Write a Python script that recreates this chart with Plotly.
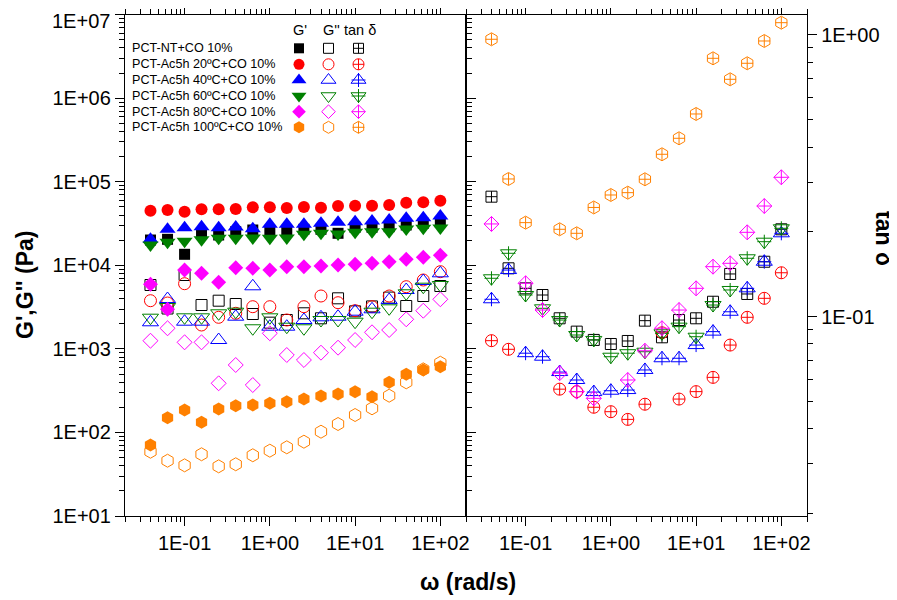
import plotly.graph_objects as go

# The page body adds an 8px margin, so the figure is drawn 8px smaller and all
# positions below are given in the 897x600 window's pixel frame.
OX, OY = 8, 8
WIN_W, WIN_H = 897, 600
W, H = WIN_W - OX, WIN_H - OY

# ---------------- data ----------------
freq = [0.0398, 0.0631, 0.1, 0.158, 0.251, 0.398, 0.631, 1.0, 1.58, 2.51,
        3.98, 6.31, 10.0, 15.8, 25.1, 39.8, 63.1, 100.0]

series_names = ["PCT-NT+CO 10%", "PCT-Ac5h 20ºC+CO 10%", "PCT-Ac5h 40ºC+CO 10%",
                "PCT-Ac5h 60ºC+CO 10%", "PCT-Ac5h 80ºC+CO 10%", "PCT-Ac5h 100ºC+CO 10%"]

nt_gp = [20100, 20500, 13560, 24190, 23080, 25290, 26490, 25760, 25760, 27010,
         27010, 24190, 28530, 28530, 29010, 30410, 31870, 33300]
nt_gpp = [5818, 3044, 7664, 3353, 3776, 3447, 2616, 2061, 2218, 2668,
          2324, 4033, 2816, 3224, 4114, 3261, 4296, 5661]
nt_tan = [0.2667, 0.1485, 0.1261, 0.1194, 0.0987, 0.0885, 0.0827, 0.0800, 0.0820, 0.0968,
          0.0845, 0.0973, 0.0987, 0.1130, 0.1418, 0.1204, 0.1567, 0.2043]

r20_gp = [45100, 46000, 43900, 46900, 46900, 47300, 49500, 49500, 48600, 49900,
          49000, 51300, 51800, 51800, 52800, 56200, 56800, 59400]
r20_gpp = [3776, 3542, 6031, 1932, 2389, 2668, 3200, 3200, 2218, 3200,
           4296, 3573, 2866, 3200, 4296, 5553, 6677, 8395]
r20_tan = [0.0822, 0.0766, None, None, 0.0553, 0.0542, 0.0477, 0.0460, 0.0432, 0.0489,
           0.0877, 0.0510, 0.0542, 0.0609, 0.0793, 0.0995, 0.1162, 0.1432]

b40_gp = [20500, 27000, 28200, 29000, 28200, 28770, 27480, 31000, 31000, 31000,
          31870, 32760, 33300, 33960, 34900, 36560, 37190, 38990]
b40_gpp = [2082, 3956, 2116, 2116, 1278, 2429, 5615, 1844, 1844, 2218,
           2389, 2429, 2788, 2979, 3849, 5070, 6495, 8030]
b40_tan = [0.1153, 0.1464, 0.0742, 0.0721, 0.0636, 0.0596, 0.0540, 0.0546, 0.0549, 0.0647,
           0.0712, 0.0712, 0.0793, 0.0885, 0.1041, 0.1261, 0.1567, 0.1977]

g60_gp = [17520, 18880, 19410, 20280, 21080, 21080, 21250, 21080, 21250, 23530,
          24190, 23800, 24880, 25290, 25290, 27230, 27760, 27990]
g60_gpp = [2363, 3173, 2389, 2389, 2668, 2788, 1765, 2389, 1844, 1765,
           2218, 2218, 2116, 2788, 3061, 4630, 5553, 5818]
g60_tan = [0.1369, 0.1679, 0.1194, 0.1071, 0.0973, 0.0861, 0.0827, 0.0721, 0.0742, 0.0751,
           0.0873, 0.0922, 0.0849, 0.1100, 0.1244, 0.1612, 0.1846, 0.2060]

m80_gp = [5933, 2979, 8796, 8030, 6268, 9374, 9220, 8796, 9634, 9634,
          9822, 10100, 10290, 10580, 11060, 11810, 12490, 13190]
m80_gpp = [1253, 1765, 1199, 1199, 387.5, 641.8, 369.8, 1537, 845.3, 736.5,
           900.7, 1034, 1278, 1580, 1684, 2261, 2865, 3923]
m80_tan = [0.2134, None, 0.1314, 0.1056, 0.0630, 0.0542, 0.0513, None, 0.0596, 0.0757,
           0.0910, 0.1056, 0.1261, 0.1505, 0.1547, 0.1993, 0.2471, 0.3125]

o100_gp = [70.8, 150.2, 185.6, 132.3, 190.9, 209.0, 213.1, 223.3, 233.3, 251.4,
           273.1, 288.6, 307.5, 267.9, 398.3, 496.6, 559.0, 612.4]
o100_gpp = [58.8, 45.9, 40.4, 54.8, 39.3, 41.6, 53.3, 60.5, 66.4, 77.5,
            102.1, 126.2, 161.7, 194.5, 275.4, 398.3, 569.9, 683.5]
o100_tan = [0.9655, 0.3082, 0.2157, None, 0.2043, 0.1977, 0.2442, 0.2704, 0.2756, 0.3075,
            0.3772, 0.4298, 0.5243, 0.8265, 0.6961, 0.7935, 0.9521, 1.1058]

g_tickvals = [1e1, 1e2, 1e3, 1e4, 1e5, 1e6, 1e7]
g_ticktext = ["1E+01", "1E+02", "1E+03", "1E+04", "1E+05", "1E+06", "1E+07"]
t_tickvals = [0.1, 1.0]
t_ticktext = ["1E-01", "1E+00"]
x_tickvals = [0.1, 1.0, 10.0, 100.0]
x_ticktext = ["1E-01", "1E+00", "1E+01", "1E+02"]

# ---------------- styles ----------------
colors = ["#000000", "#FF0000", "#0000FF", "#008000", "#FF00FF", "#FF8000"]
gp_data = [nt_gp, r20_gp, b40_gp, g60_gp, m80_gp, o100_gp]
gpp_data = [nt_gpp, r20_gpp, b40_gpp, g60_gpp, m80_gpp, o100_gpp]
tan_data = [nt_tan, r20_tan, b40_tan, g60_tan, m80_tan, o100_tan]
base_sym = ["square", "circle", "triangle-up", "triangle-down", "diamond", "hexagon"]
sizes = [11, 12, 14, 14, 11.5, 13]
tan_sym = ["square-cross-open", "circle-cross-open", "triangle-up-open",
           "triangle-down-open", "diamond-cross-open", "hexagon-open"]
needs_cross = [False, False, True, True, False, True]
cross_size = [0, 0, 10, 10, 0, 8.5]

FONT = "Liberation Sans, Arial, sans-serif"

fig = go.Figure()

def add_markers(x, y, xa, ya, sym, size, color, lw=1.0, filled=False):
    fig.add_trace(go.Scatter(
        x=x, y=y, xaxis=xa, yaxis=ya, mode="markers", showlegend=False,
        hoverinfo="skip", cliponaxis=False,
        marker=dict(symbol=sym, size=size, color=color,
                    line=dict(width=0 if filled else lw, color=color))))

for i in range(6):
    c = colors[i]
    add_markers(freq, gp_data[i], "x", "y", base_sym[i], sizes[i], c, filled=True)
    add_markers(freq, gpp_data[i], "x", "y", base_sym[i] + "-open", sizes[i], c)
for i in range(6):
    c = colors[i]
    add_markers(freq, tan_data[i], "x2", "y2", tan_sym[i], sizes[i], c)
    if needs_cross[i]:
        add_markers(freq, tan_data[i], "x2", "y2", "cross-thin-open", cross_size[i], c)

# ---------------- legend (table), window pixel frame ----------------
leg_x_label = 129.5
leg_cols = [299, 328.5, 358.5]
leg_rows = [48.3, 64.3, 80.0, 96.0, 111.7, 127.3]
annotations = []
for i in range(6):
    c = colors[i]
    ly = leg_rows[i]
    add_markers([leg_cols[0]], [ly], "x3", "y3", base_sym[i], sizes[i] - 1, c, filled=True)
    add_markers([leg_cols[1]], [ly], "x3", "y3", base_sym[i] + "-open", sizes[i] - 1, c)
    add_markers([leg_cols[2]], [ly], "x3", "y3", tan_sym[i], sizes[i] - 1, c)
    if needs_cross[i]:
        add_markers([leg_cols[2]], [ly], "x3", "y3", "cross-thin-open", cross_size[i], c)
    annotations.append(dict(x=leg_x_label, y=ly, xref="x3", yref="y3", text=series_names[i],
                            showarrow=False, xanchor="left", yanchor="middle",
                            font=dict(family=FONT, size=12.6, color="black")))
for tx, hx in [("G'", 300), ("G''", 331.5), ("tan δ", 359.5)]:
    annotations.append(dict(x=hx, y=30, xref="x3", yref="y3", text=tx, showarrow=False,
                            xanchor="center", yanchor="middle",
                            font=dict(family=FONT, size=14.5, color="black")))

# top tick label of the G axis, kept fully inside the page
annotations.append(dict(x=111, y=OY + 0.5, xref="x3", yref="y3", text=g_ticktext[-1],
                        showarrow=False, xanchor="right", yanchor="top", borderpad=0,
                        font=dict(family=FONT, size=20, color="black")))
g_ticktext_axis = g_ticktext[:-1] + [""]

# axis titles
annotations.append(dict(x=25, y=285, xref="x3", yref="y3", text="<b>G',G'' (Pa)</b>",
                        textangle=-90, showarrow=False,
                        font=dict(family=FONT, size=23, color="black")))
annotations.append(dict(x=468, y=582, xref="x3", yref="y3", text="<b>ω (rad/s)</b>",
                        showarrow=False, font=dict(family=FONT, size=23, color="black")))
annotations.append(dict(x=884, y=238, xref="x3", yref="y3", text="<b>tan δ</b>",
                        textangle=90, showarrow=False,
                        font=dict(family=FONT, size=23, color="black")))

# ---------------- axes ----------------
def minor_vals(lo_exp, hi_exp):
    out = []
    for e in range(lo_exp, hi_exp + 1):
        for m in range(2, 10):
            out.append(m * 10 ** e)
    return out

def fx(px):
    return (px - OX) / W

def fy(py):
    return 1 - (py - OY) / H

tickfont = dict(family=FONT, size=20, color="black")
axcommon = dict(type="log", showline=True, linecolor="black", linewidth=1.3,
                ticks="outside", ticklen=9, tickwidth=1.3, tickcolor="black",
                showgrid=False, zeroline=False, tickfont=tickfont, automargin=False,
                ticklabeloverflow="allow")

xminor = dict(tickvals=minor_vals(-2, 2), ticks="outside", ticklen=5, tickwidth=1,
              tickcolor="black", showgrid=False)

fig.update_layout(
    template="none",
    width=W, height=H,
    margin=dict(l=0, r=0, t=0, b=0, pad=0),
    paper_bgcolor="white", plot_bgcolor="rgba(0,0,0,0)",
    font=dict(family=FONT, color="black"),
    showlegend=False,
    xaxis=dict(**axcommon, domain=[fx(125), fx(466)], anchor="y", range=[-1.699, 2.301],
               tickvals=x_tickvals, ticktext=x_ticktext, mirror="ticks", minor=xminor),
    yaxis=dict(**axcommon, domain=[fy(516), fy(14.7)], anchor="x", range=[1, 7],
               tickvals=g_tickvals, ticktext=g_ticktext_axis, mirror="ticks",
               minor=dict(tickvals=minor_vals(1, 6), ticks="outside", ticklen=5,
                          tickwidth=1, tickcolor="black", showgrid=False)),
    xaxis2=dict(**axcommon, domain=[fx(466), fx(807)], anchor="y2", range=[-1.699, 2.301],
                tickvals=x_tickvals, ticktext=x_ticktext, mirror="ticks", minor=xminor),
    yaxis2=dict(**axcommon, domain=[fy(516), fy(14.7)], anchor="x2", side="right",
                range=[-1.7075, 0.072], tickvals=t_tickvals, ticktext=t_ticktext,
                mirror=True,
                minor=dict(tickvals=minor_vals(-2, -1), ticks="outside", ticklen=5,
                           tickwidth=1, tickcolor="black", showgrid=False)),
    xaxis3=dict(domain=[0, 1], range=[OX, WIN_W], visible=False, anchor="y3",
                fixedrange=True, automargin=False),
    yaxis3=dict(domain=[0, 1], range=[WIN_H, OY], visible=False, anchor="x3",
                fixedrange=True, automargin=False),
    annotations=annotations,
)

fig.write_html("out.html")
